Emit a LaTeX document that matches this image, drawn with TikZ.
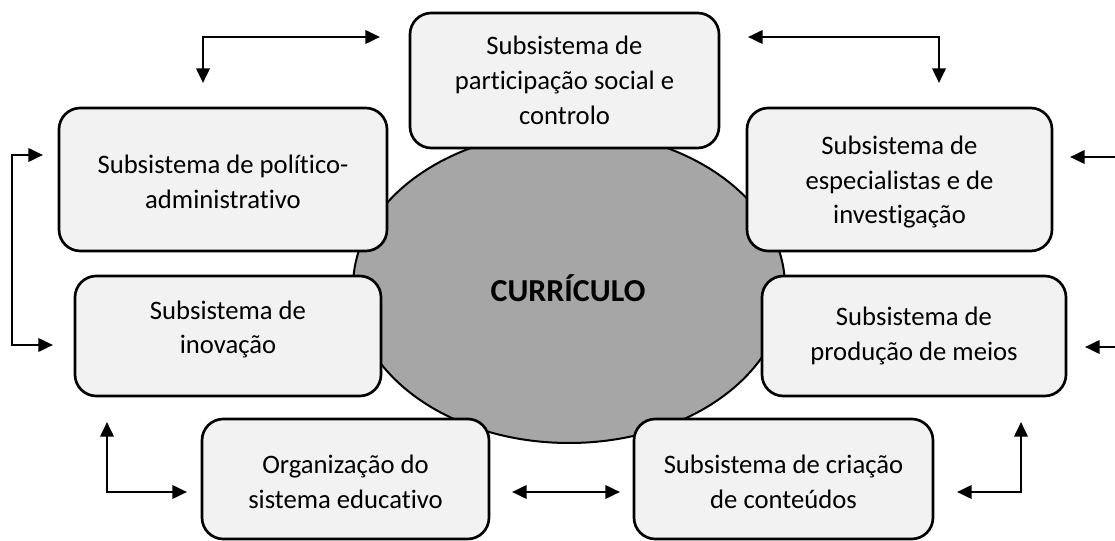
\documentclass[tikz,border=0pt]{standalone}
\usepackage{fontspec}
\setmainfont{Carlito}[Ligatures=NoCommon]
\usetikzlibrary{arrows.meta,shapes.geometric}
\definecolor{boxfill}{HTML}{F2F2F2}
\definecolor{ellfill}{HTML}{A6A6A6}
\tikzset{
  sbox/.style={draw=black, line width=2pt, fill=boxfill, rounded corners=16pt, inner sep=0pt},
  stxt/.style={align=center, font=\fontsize{20}{26}\selectfont, inner sep=0pt},
  arr/.style={line width=2pt, {Triangle[length=11pt,width=10pt]}-{Triangle[length=11pt,width=10pt]}},
  arr1/.style={line width=2pt, -{Triangle[length=11pt,width=10pt]}}
}
\begin{document}
\begin{tikzpicture}[x=0.75pt,y=-0.75pt]
\useasboundingbox (0,0) rectangle (1115,541);
% ellipse
\node[draw=black, line width=1.5pt, fill=ellfill, ellipse, minimum width=324pt, minimum height=234pt, inner sep=0pt] (cur) at (569,287) {};
\node[font=\bfseries\fontsize{24}{26}\selectfont, inner sep=0pt] (curT) at (568,288) {CURRÍCULO};
% boxes
\node[sbox, minimum width=231.75pt, minimum height=101.25pt] (top) at (564.5,80.5) {};
\node[stxt] (topT) at (top.center) {Subsistema de\\participação social e\\controlo};
\node[sbox, minimum width=246pt, minimum height=107.25pt] (pol) at (223,179.5) {};
\node[stxt] (polT) at ([yshift=-2pt]pol.center) {Subsistema de político-\\administrativo};
\node[sbox, minimum width=228.75pt, minimum height=107.25pt] (esp) at (899.5,179.5) {};
\node[stxt] (espT) at ([yshift=-2pt]esp.center) {Subsistema de\\especialistas e de\\investigação};
\node[sbox, minimum width=229.5pt, minimum height=90pt] (inov) at (228,336) {};
\node[stxt] (inovT) at ([yshift=5pt]inov.center) {Subsistema de\\inovação};
\node[sbox, minimum width=228pt, minimum height=90pt] (prod) at (914,336) {};
\node[stxt] (prodT) at (prod.center) {Subsistema de\\produção de meios};
\node[sbox, minimum width=215.25pt, minimum height=90pt] (org) at (345.5,479) {};
\node[stxt] (orgT) at ([yshift=-2pt]org.center) {Organização do\\sistema educativo};
\node[sbox, minimum width=224.25pt, minimum height=90pt] (cri) at (783.5,479) {};
\node[stxt] (criT) at ([yshift=-2pt]cri.center) {Subsistema de criação\\de conteúdos};
% arrow coordinates
\coordinate (tl1) at (380,37);
\coordinate (tl2) at (203,83);
\coordinate (tr1) at (748,37);
\coordinate (tr2) at (939,83);
\coordinate (r1a) at (1115,157);
\coordinate (r1b) at (1070,157);
\coordinate (r2a) at (1115,347);
\coordinate (r2b) at (1085,347);
\coordinate (l1) at (43,155);
\coordinate (l1c) at (12,155);
\coordinate (l2c) at (12,345);
\coordinate (l2) at (53,345);
\coordinate (bl1) at (107,422);
\coordinate (bl2) at (187,492);
\coordinate (bm1) at (512,492);
\coordinate (bm2) at (620,492);
\coordinate (br1) at (957,492);
\coordinate (br2) at (1021,422);
% arrows
\draw[arr] (tl1) -| (tl2);
\draw[arr] (tr1) -| (tr2);
\draw[arr1] (r1a) -- (r1b);
\draw[arr1] (r2a) -- (r2b);
\draw[arr] (l1) -- (l1c) -- (l2c) -- (l2);
\draw[arr] (bl1) |- (bl2);
\draw[arr] (bm1) -- (bm2);
\draw[arr] (br1) -| (br2);
\end{tikzpicture}
\end{document}
